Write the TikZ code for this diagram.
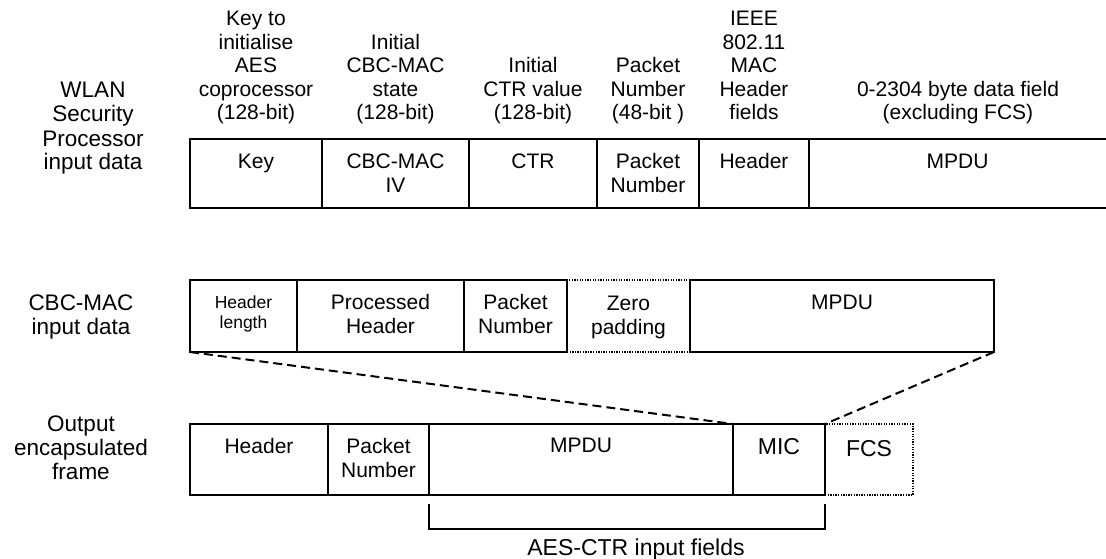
\documentclass[tikz,border=0pt]{standalone}
\usepackage{fontspec}
\setmainfont{Liberation Sans}
\begin{document}
\begin{tikzpicture}[x=1pt,y=-1pt,
  cell/.style={draw, line width=1.6pt, inner sep=0pt, outer sep=0pt, anchor=north west},
  dotcell/.style={draw, line width=1.4pt, dash pattern=on 1.3pt off 1.3pt, inner sep=0pt, outer sep=0pt, anchor=north west},
  txt/.style={font=\fontsize{21}{23.5}\selectfont, align=center, inner sep=0pt},
  smalltxt/.style={font=\fontsize{17.5}{20}\selectfont, align=center, inner sep=0pt},
  side/.style={font=\fontsize{22.5}{24}\selectfont, align=center, inner sep=0pt},
  bigtxt/.style={font=\fontsize{23}{24}\selectfont, align=center, inner sep=0pt},
  zoomline/.style={line width=2pt, dash pattern=on 9pt off 5pt},
  bracket/.style={line width=1.6pt}
]
\useasboundingbox (0,0) rectangle (1106,559);

% ---------- Row 1 ----------
\node[cell, minimum width=132pt, minimum height=69pt] (k1) at (190,139) {};
\node[cell, minimum width=147pt, minimum height=69pt] (k2) at (322,139) {};
\node[cell, minimum width=128pt, minimum height=69pt] (k3) at (469,139) {};
\node[cell, minimum width=102pt, minimum height=69pt] (k4) at (597,139) {};
\node[cell, minimum width=110pt, minimum height=69pt] (k5) at (699,139) {};
\node[cell, minimum width=320pt, minimum height=69pt] (k6) at (809,139) {};

\node[txt, anchor=north] (k1t) at ([yshift=-13pt]k1.north) {\strut Key};
\node[txt, anchor=north] (k2t) at ([yshift=-13pt]k2.north) {\strut CBC-MAC\\IV};
\node[txt, anchor=north] (k3t) at ([yshift=-13pt]k3.north) {\strut CTR};
\node[txt, anchor=north] (k4t) at ([yshift=-13pt]k4.north) {\strut Packet\\Number};
\node[txt, anchor=north] (k5t) at ([yshift=-13pt]k5.north) {\strut Header};
\node[txt, anchor=north] (k6t) at (957.5,152) {\strut MPDU};

\node[txt, anchor=south] (k1l) at ([yshift=12pt]k1.north) {Key to\\initialise\\AES\\coprocessor\\(128-bit)\strut};
\node[txt, anchor=south] (k2l) at ([yshift=12pt]k2.north) {Initial\\CBC-MAC\\state\\(128-bit)\strut};
\node[txt, anchor=south] (k3l) at ([yshift=12pt]k3.north) {Initial\\CTR value\\(128-bit)\strut};
\node[txt, anchor=south] (k4l) at ([yshift=12pt]k4.north) {Packet\\Number\\(48-bit\ )\strut};
\node[txt, anchor=south] (k5l) at ([yshift=12pt]k5.north) {IEEE\\802.11\\MAC\\Header\\fields\strut};
\node[txt, anchor=south] (k6l) at (958,127) {0-2304 byte data field\\(excluding FCS)\strut};

\node[side, anchor=north] (wlan) at (93,81) {\strut WLAN\\Security\\Processor\\input data};

% ---------- Row 2 ----------
\node[dotcell, minimum width=123pt, minimum height=72pt] (c4) at (567,280) {};
\node[cell, minimum width=107pt, minimum height=72pt] (c1) at (190,280) {};
\node[cell, minimum width=167pt, minimum height=72pt] (c2) at (297,280) {};
\node[cell, minimum width=103pt, minimum height=72pt] (c3) at (464,280) {};
\node[cell, minimum width=304pt, minimum height=72pt] (c5) at (690,280) {};

\node[smalltxt, anchor=north] (c1t) at ([yshift=-14pt]c1.north) {\strut Header\\length};
\node[txt, anchor=north] (c2t) at ([yshift=-13pt]c2.north) {\strut Processed\\Header};
\node[txt, anchor=north] (c3t) at ([yshift=-13pt]c3.north) {\strut Packet\\Number};
\node[txt, anchor=north] (c4t) at ([yshift=-14pt]c4.north) {\strut Zero\\padding};
\node[txt, anchor=north] (c5t) at ([yshift=-13pt]c5.north) {\strut MPDU};

\node[side, anchor=north] (cbcl) at (81,293) {\strut CBC-MAC\\input data};

% ---------- Row 3 ----------
\node[dotcell, minimum width=88pt, minimum height=71pt] (o5) at (825,424) {};
\node[cell, minimum width=138pt, minimum height=71pt] (o1) at (190,424) {};
\node[cell, minimum width=101pt, minimum height=71pt] (o2) at (328,424) {};
\node[cell, minimum width=304pt, minimum height=71pt] (o3) at (429,424) {};
\node[cell, minimum width=92pt, minimum height=71pt] (o4) at (733,424) {};

\node[txt, anchor=north] (o1t) at ([yshift=-13pt]o1.north) {\strut Header};
\node[txt, anchor=north] (o2t) at ([yshift=-13pt]o2.north) {\strut Packet\\Number};
\node[txt, anchor=north] (o3t) at ([yshift=-12pt]o3.north) {\strut MPDU};
\node[bigtxt, anchor=north] (o4t) at ([yshift=-13pt]o4.north) {\strut MIC};
\node[bigtxt, anchor=north] (o5t) at ([yshift=-15pt]o5.north) {\strut FCS};

\node[side, anchor=north] (outl) at (81,414) {\strut Output\\encapsulated\\frame};

% ---------- zoom connectors ----------
\draw[zoomline] (c1.south west) -- (o4.north west);
\draw[zoomline] (c5.south east) -- (o4.north east);

% ---------- AES-CTR bracket ----------
\coordinate (bl) at ([yshift=-34pt]o3.south west);
\coordinate (br) at ([yshift=-34pt]o4.south east);
\draw[bracket] ([yshift=-9pt]o3.south west) -- (bl) -- (br) -- ([yshift=-9pt]o4.south east);
\node[bigtxt, anchor=base] (aes) at (636,555) {AES-CTR input fields};
\end{tikzpicture}
\end{document}
